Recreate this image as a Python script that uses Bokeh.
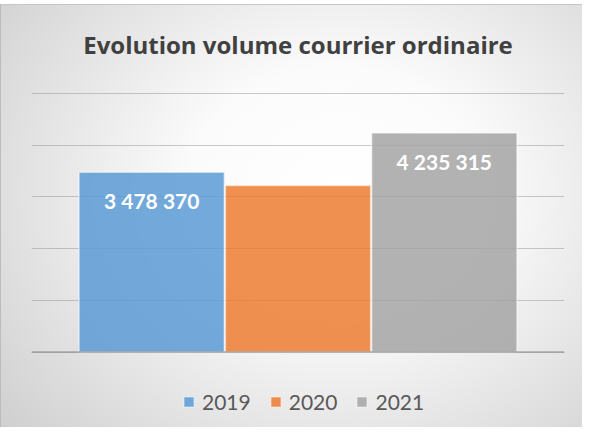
from bokeh.plotting import figure
from bokeh.models import ColumnDataSource, LabelSet, Legend, LegendItem, FixedTicker, Span, FactorRange
from bokeh.embed import file_html
from bokeh.resources import INLINE
from bokeh.core.properties import value

# ---- data ----
chart_title = "Evolution volume courrier ordinaire"
years = ["2019", "2020", "2021"]
volumes = [3478370, 3220000, 4235315]
label_shown = [True, False, True]
colors = ["#5B9BD5", "#ED7D31", "#A5A5A5"]
y_ticks = [0, 1000000, 2000000, 3000000, 4000000, 5000000]


def fmt(v):
    return f"{v:,}".replace(",", " ")


labels = [fmt(v) if s else "" for v, s in zip(volumes, label_shown)]
src = ColumnDataSource(dict(year=years, volume=volumes, color=colors, label=labels))

# ---- layout geometry (canvas pixels) ----
W, H = 582, 427
FRAME_L, FRAME_R, FRAME_T, FRAME_B = 31, 564, 4, 427
Y0_PX, YMAX_PX = 351.5, 93.0          # canvas rows of the 0 and top gridlines
per_px = (y_ticks[-1] - y_ticks[0]) / (Y0_PX - YMAX_PX)
y_start = y_ticks[0] - (FRAME_B - Y0_PX) * per_px
y_end = y_ticks[-1] + (YMAX_PX - FRAME_T) * per_px
TITLE_BASELINE_PX = 53
title_src = ColumnDataSource(dict(x=[years[1]],
                                  y=[y_ticks[0] + (Y0_PX - TITLE_BASELINE_PX) * per_px],
                                  text=[chart_title]))

FONT = "Lato"

p = figure(
    x_range=FactorRange(factors=years, range_padding=0.2143),
    y_range=(y_start, y_end),
    width=W, height=H,
    output_backend="svg", toolbar_location=None,
    min_border_left=FRAME_L, min_border_right=W - FRAME_R,
    min_border_top=FRAME_T, min_border_bottom=H - FRAME_B,
    border_fill_alpha=0, background_fill_alpha=0, outline_line_color=None,
)
p.xaxis.visible = False
p.yaxis.visible = False
p.title.visible = False
try:
    p.title_location = None
except Exception:
    pass

p.styles = {
    "background": (
        "linear-gradient(#ffffff,#ffffff) 0 0/100% 4px no-repeat, "
        "linear-gradient(#bcbcbc,#bcbcbc) 0 4px/1px 100% no-repeat, "
        "linear-gradient(#c6c6c6,#c6c6c6) 0 4px/100% 1px no-repeat, "
        "radial-gradient(ellipse 78% 88% at 58% 45%, #ffffff 0%, #fbfbfb 33%, #cdcdcd 100%)"
    )
}

p.xgrid.visible = False
p.ygrid.ticker = FixedTicker(ticks=y_ticks)
p.ygrid.grid_line_color = "#7f7f7f"
p.ygrid.grid_line_alpha = 0.4
p.ygrid.grid_line_width = 1

p.add_layout(Span(location=y_ticks[0], dimension="width", line_color="#8a8a8a", line_width=1))

r = p.vbar(x="year", top="volume", bottom=0, width=0.993, source=src,
           fill_color="color", fill_alpha=0.85,
           line_color="white", line_alpha=0.5, line_width=1.5)

p.add_layout(LabelSet(x="year", y="volume", text="label", source=src,
                      text_align="center", text_baseline="middle", y_offset=-28,
                      text_color="white", text_font=value(FONT), text_font_style="bold",
                      text_font_size="21px"))

p.add_layout(LabelSet(x="x", y="y", text="text", source=title_src,
                      text_align="center", text_baseline="alphabetic",
                      text_font=value("Open Sans"), text_font_style="bold",
                      text_font_size="24px", text_color="#404040"))

legend = Legend(
    items=[LegendItem(label=y, renderers=[r], index=i) for i, y in enumerate(years)],
    orientation="horizontal", location=(151, 13),
    glyph_width=13, glyph_height=13, label_standoff=7, spacing=18, label_height=22,
    label_text_font=FONT, label_text_font_size="21px", label_text_color="#595959",
    background_fill_alpha=0, border_line_color=None,
    margin=0, padding=0,
)
p.add_layout(legend)

open("out.html", "w").write(file_html(p, INLINE))
